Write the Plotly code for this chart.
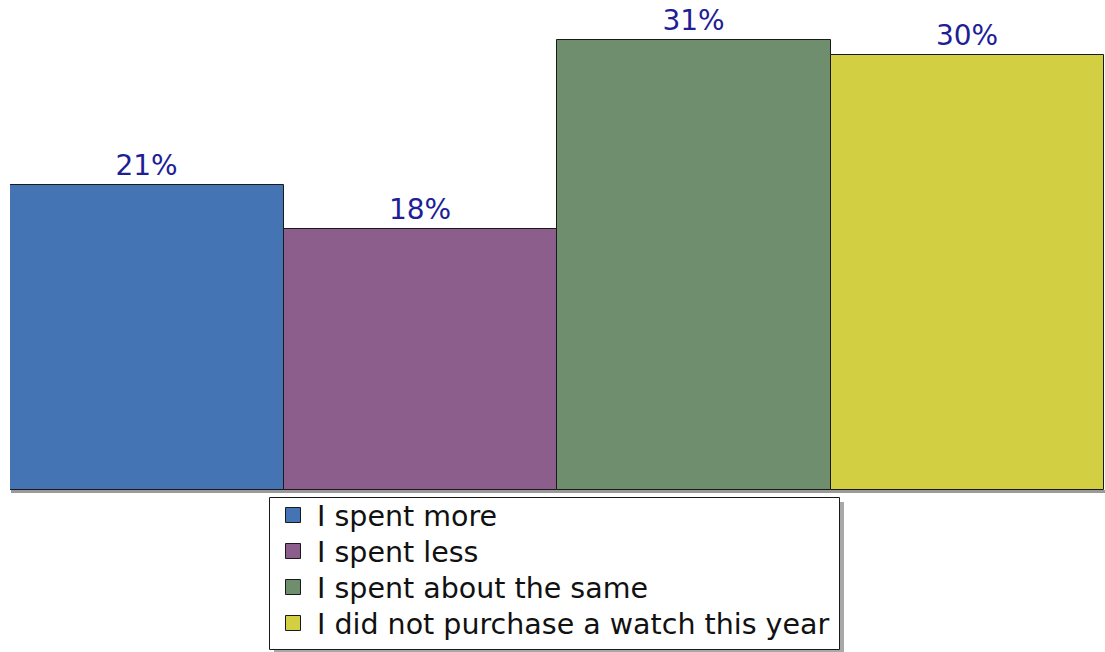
import plotly.graph_objects as go

# Survey responses and their shares (%)
categories = ["I spent more", "I spent less", "I spent about the same",
              "I did not purchase a watch this year"]
values = [21, 18, 31, 30]
labels = ["21%", "18%", "31%", "30%"]
colors = ["#4574B4", "#8B5E8B", "#6E8E6E", "#D2CF42"]

FONT = "DejaVu Sans, Verdana, sans-serif"
W, H = 1105, 652
L, R, T, B = 10, 1, 0, 162
plot_w = W - L - R
plot_h = H - T - B


def px_x(px):
    return (px - L) / plot_w


def px_y(py):
    return (T + plot_h - py) / plot_h


fig = go.Figure()
for i, (cat, val, lab, col) in enumerate(zip(categories, values, labels, colors)):
    fig.add_trace(go.Bar(
        x=[i], y=[val], name=cat, width=1,
        marker=dict(color=col, line=dict(color="#1a1a1a", width=1)),
        text=[lab], textposition="outside", cliponaxis=False,
        textfont=dict(family=FONT, size=28, color="#1E1E96"),
        showlegend=False,
    ))

shapes = [
    # drop shadow along the base of the bars
    dict(type="rect", xref="paper", yref="paper",
         x0=px_x(11), x1=px_x(1105), y0=px_y(493), y1=px_y(490),
         fillcolor="#9a9a9a", line=dict(width=0), layer="below"),
    # legend shadow and frame
    dict(type="rect", xref="paper", yref="paper",
         x0=px_x(274), x1=px_x(844), y0=px_y(654), y1=px_y(502),
         fillcolor="#a8a8a8", line=dict(width=0), layer="above"),
    dict(type="rect", xref="paper", yref="paper",
         x0=px_x(269.5), x1=px_x(839.5), y0=px_y(649.5), y1=px_y(497.5),
         fillcolor="white", line=dict(color="#1a1a1a", width=1), layer="above"),
]
annotations = []
row_y0, row_step = 515, 36
for i, (cat, col) in enumerate(zip(categories, colors)):
    cy = row_y0 + i * row_step
    shapes.append(dict(type="rect", xref="paper", yref="paper",
                       x0=px_x(285.5), x1=px_x(300.5),
                       y0=px_y(cy + 7.5), y1=px_y(cy - 7.5),
                       fillcolor=col, line=dict(color="#1a1a1a", width=1),
                       layer="above"))
    annotations.append(dict(xref="paper", yref="paper",
                            x=px_x(315), y=px_y(cy + 1),
                            xanchor="left", yanchor="middle",
                            text=cat, showarrow=False,
                            font=dict(family=FONT, size=28.5, color="#111111")))

fig.update_layout(
    width=W, height=H,
    margin=dict(l=L, r=R, t=T, b=B, pad=0, autoexpand=False),
    paper_bgcolor="white", plot_bgcolor="white",
    barmode="overlay", bargap=0,
    showlegend=False,
    shapes=shapes, annotations=annotations,
    xaxis=dict(range=[-0.5, 3.5], showticklabels=False, showgrid=False,
               zeroline=False, showline=False, ticks=""),
    yaxis=dict(range=[0, 33.76], showticklabels=False, showgrid=False,
               zeroline=False, showline=False, ticks=""),
)

fig.write_html("out.html")
